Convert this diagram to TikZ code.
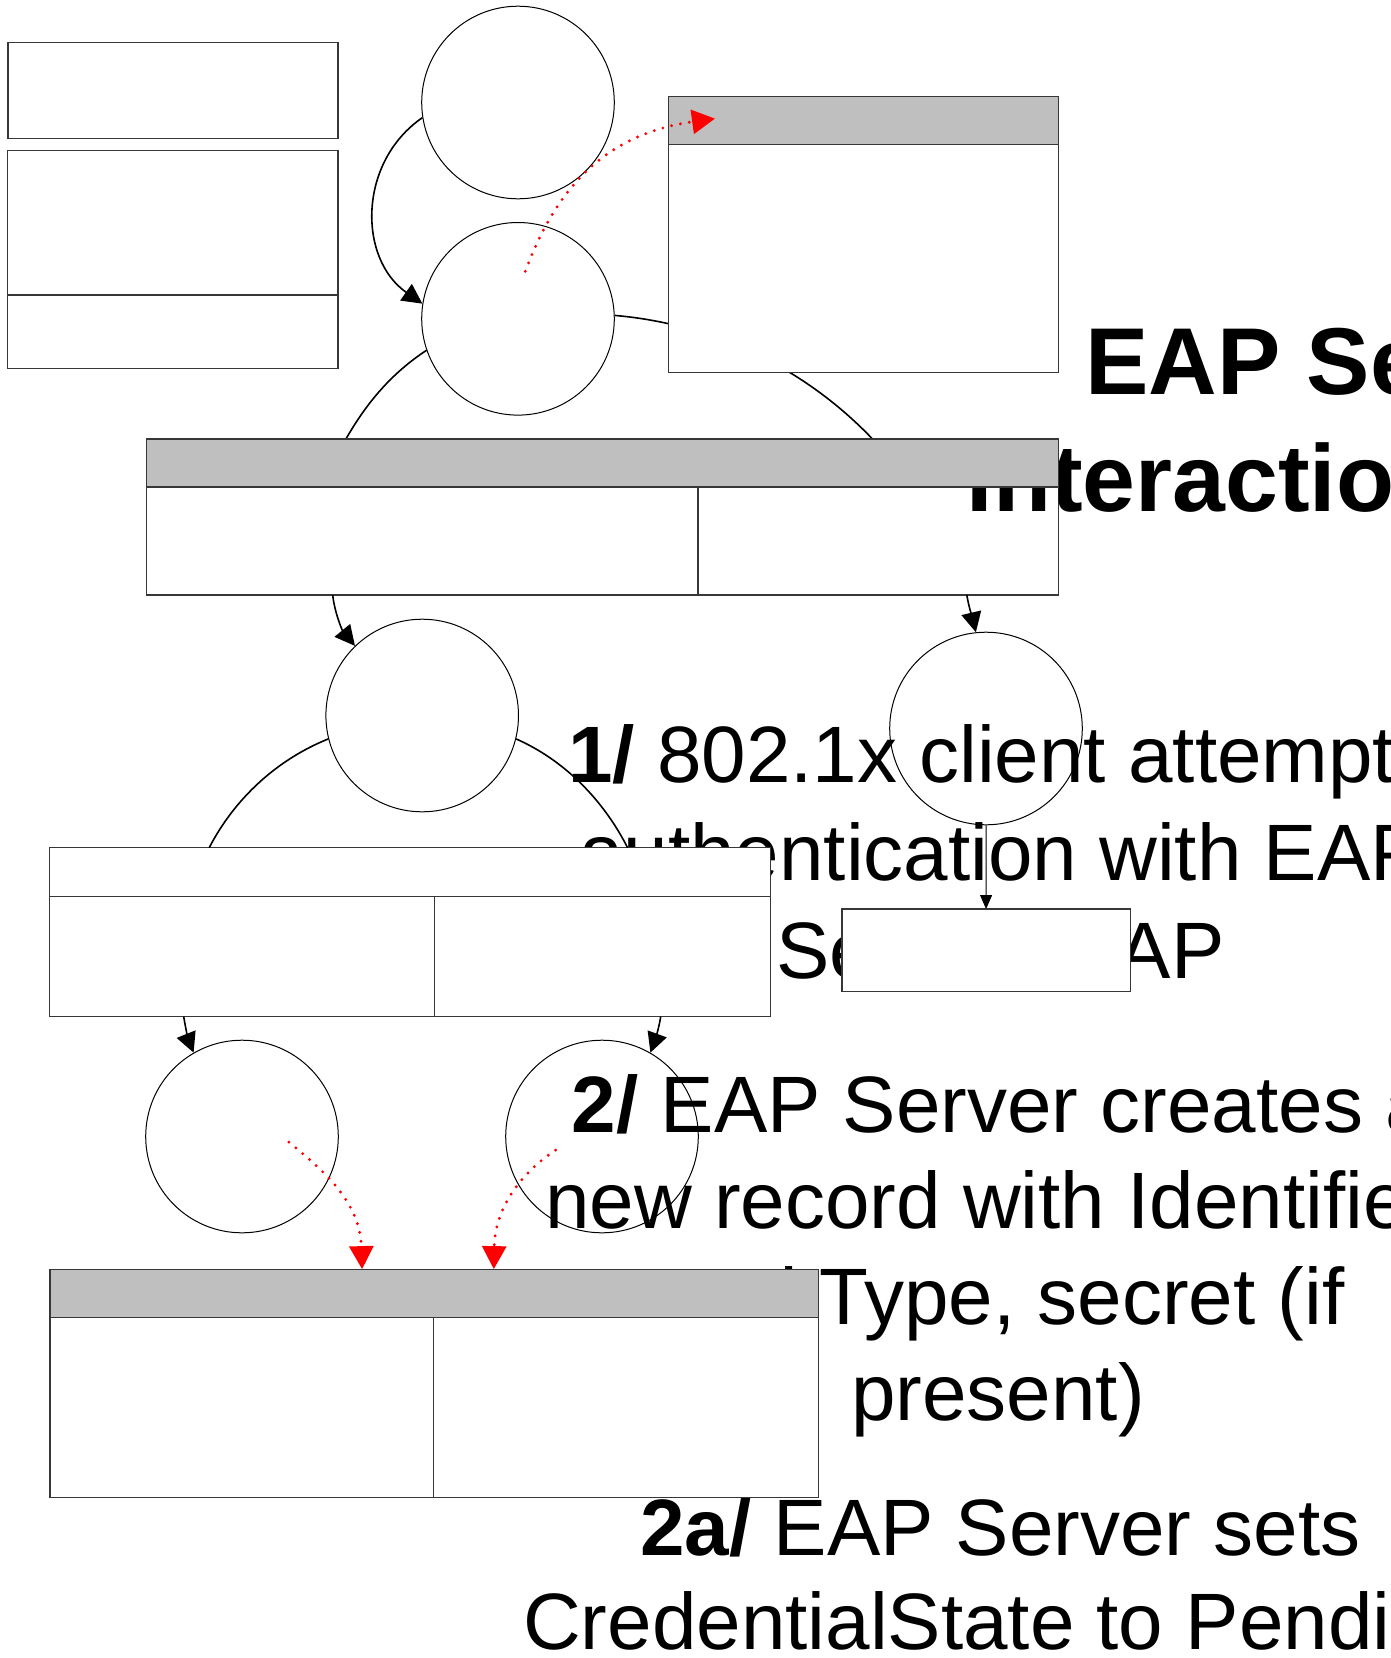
\documentclass[tikz,border=0pt]{standalone}
\usepackage{fontspec}
\setmainfont{Liberation Sans}
\usetikzlibrary{arrows.meta}
\definecolor{hdrgrey}{RGB}{191,191,191}
\definecolor{boxline}{RGB}{55,55,55}
\begin{document}
\begin{tikzpicture}[x=1pt,y=-1pt,
  box/.style={rectangle, draw=boxline, line width=1.2pt, fill=white, inner sep=0pt, outer sep=0pt, anchor=north west},
  rule/.style={draw=boxline, line width=1.2pt},
  head/.style={fill=hdrgrey, draw=boxline, line width=1.2pt},
  ring/.style={circle, draw=black, line width=1pt, inner sep=0pt, minimum size=192.6pt},
  link/.style={draw=black, line width=1.6pt},
  flow/.style={link, -{Triangle[length=20pt,width=20pt]}},
  slimflow/.style={draw=black, line width=0.9pt, -{Triangle[length=14pt,width=12pt]}},
  trace/.style={draw=red, line width=3.2pt, line cap=round, dash pattern=on 0pt off 9pt, -{Triangle[length=23pt,width=24pt]}},
  body/.style={anchor=base west, inner sep=0pt, font=\fontsize{80pt}{96pt}\selectfont},
  heading/.style={anchor=base west, inner sep=0pt, font=\fontsize{95pt}{114pt}\selectfont\bfseries},
]
\useasboundingbox (0,0) rectangle (1391,1658);
\clip (0,0) rectangle (1391,1658);

% explanatory text (partly covered by the boxes drawn later)
\node[body] (p1) at (568,782.7) {\textbf{1/} 802.1x client attempts};
\node[body] (p2) at (579,880) {authentication with EAP};
\node[body] (p3) at (776,978) {Server\hspace{0.38em} EAP};
\node[body] (p5) at (571.5,1132.7) {\textbf{2/} EAP Server creates a};
\node[body] (p6) at (545,1228.3) {new record with Identifier};
\node[body] (p7) at (664,1324) {and Type, secret (if};
\node[body] (p8) at (851,1420.5) {present)};
\node[body] (p9) at (640,1555) {\textbf{2a/} EAP Server sets};
\node[body] (p10) at (523,1649) {CredentialState to Pending};

% circles
\node[ring] (c1) at (518,102.5) {};
\node[ring] (c2) at (518,318.8) {};
\node[ring] (c3) at (422.2,715.5) {};
\node[ring] (c4) at (986,728.5) {};
\node[ring] (c5) at (242,1136.5) {};
\node[ring] (c6) at (602,1136.5) {};

% box E with the title between its body and its header
\node[box, minimum width=911.8pt, minimum height=156.1pt] (e) at (146.4,438.9) {};
\node[heading] (t1) at (1085,394.3) {EAP Server};
\node[heading] (t2) at (966.6,511) {Interaction};

% plain connectors, running under the boxes
\draw[link] (c2.199) .. controls (391.7,373.2) and (366.8,402.5) .. ([xshift=199.6pt]e.north west);
\draw[link] (c2.2) .. controls (712.6,323.8) and (804.3,367.5) .. ([xshift=726pt]e.north west);

\filldraw[head] (e.north west) rectangle ([yshift=-48.1pt]e.north east);
\draw[rule] ([xshift=551.6pt,yshift=-48.1pt]e.north west) -- ([xshift=551.6pt]e.south west);

% remaining boxes
\node[box, minimum width=330pt, minimum height=95.6pt] (a) at (8,42.7) {};
\node[box, minimum width=330.4pt, minimum height=218pt] (b) at (7.6,150.7) {};
\draw[rule] ([yshift=-144.3pt]b.north west) -- ([yshift=-144.3pt]b.north east);

\node[box, minimum width=389.7pt, minimum height=275.5pt] (d) at (668.5,96.7) {};
\filldraw[head] (d.north west) rectangle ([yshift=-47.6pt]d.north east);

\node[box, minimum width=720.9pt, minimum height=168.8pt] (f) at (49.5,847.7) {};
\draw[rule] ([yshift=-49pt]f.north west) -- ([yshift=-49pt]f.north east);
\draw[rule] ([xshift=384.7pt,yshift=-49pt]f.north west) -- ([xshift=384.7pt]f.south west);

\node[box, minimum width=288.2pt, minimum height=82.7pt] (g) at (842,909) {};

\node[box, minimum width=768.5pt, minimum height=228.3pt] (h) at (49.9,1269.1) {};
\filldraw[head] (h.north west) rectangle ([yshift=-48pt]h.north east);
\draw[rule] ([xshift=383.9pt,yshift=-48pt]h.north west) -- ([xshift=383.9pt]h.south west);

% arcs from c3 down to box F
\draw[link] (c3.194) .. controls (276.9,759.6) and (234.6,798.6) .. ([xshift=159.7pt]f.north west);
\draw[link] (c3.346) .. controls (564,760) and (603,799.4) .. ([xshift=578.1pt]f.north west);

% arrows
\draw[flow] (c1.189) .. controls (357.7,162.2) and (358,258.6) .. (c2.171);
\draw[flow] ([xshift=186.3pt]e.south west) .. controls (334.5,612) and (342,630) .. (c3.134);
\draw[flow] ([xshift=820.4pt]e.south west) .. controls (969,608) and (973,620) .. (c4.96);
\draw[slimflow] (c4) -- (g);
\draw[flow] ([xshift=134.2pt]f.south west) .. controls (185.5,1028) and (188.5,1040) .. (c5.120);
\draw[flow] ([xshift=611.2pt]f.south west) .. controls (659,1028) and (655,1040) .. (c6.60);

% dotted red traces
\coordinate (s2) at (525.3,271.3);
\coordinate (s5) at (288.9,1142.1);
\coordinate (s6) at (555.6,1150.1);
\draw[trace] (s2) .. controls (556.8,186.7) and (606.1,134) .. ([xshift=46.5pt,yshift=-21.9pt]d.north west);
\draw[trace] (s5) .. controls (320,1168) and (360,1200) .. ([xshift=312.2pt]h.north west);
\draw[trace] (s6) .. controls (525,1170) and (495,1205) .. ([xshift=443.9pt]h.north west);
\end{tikzpicture}
\end{document}
